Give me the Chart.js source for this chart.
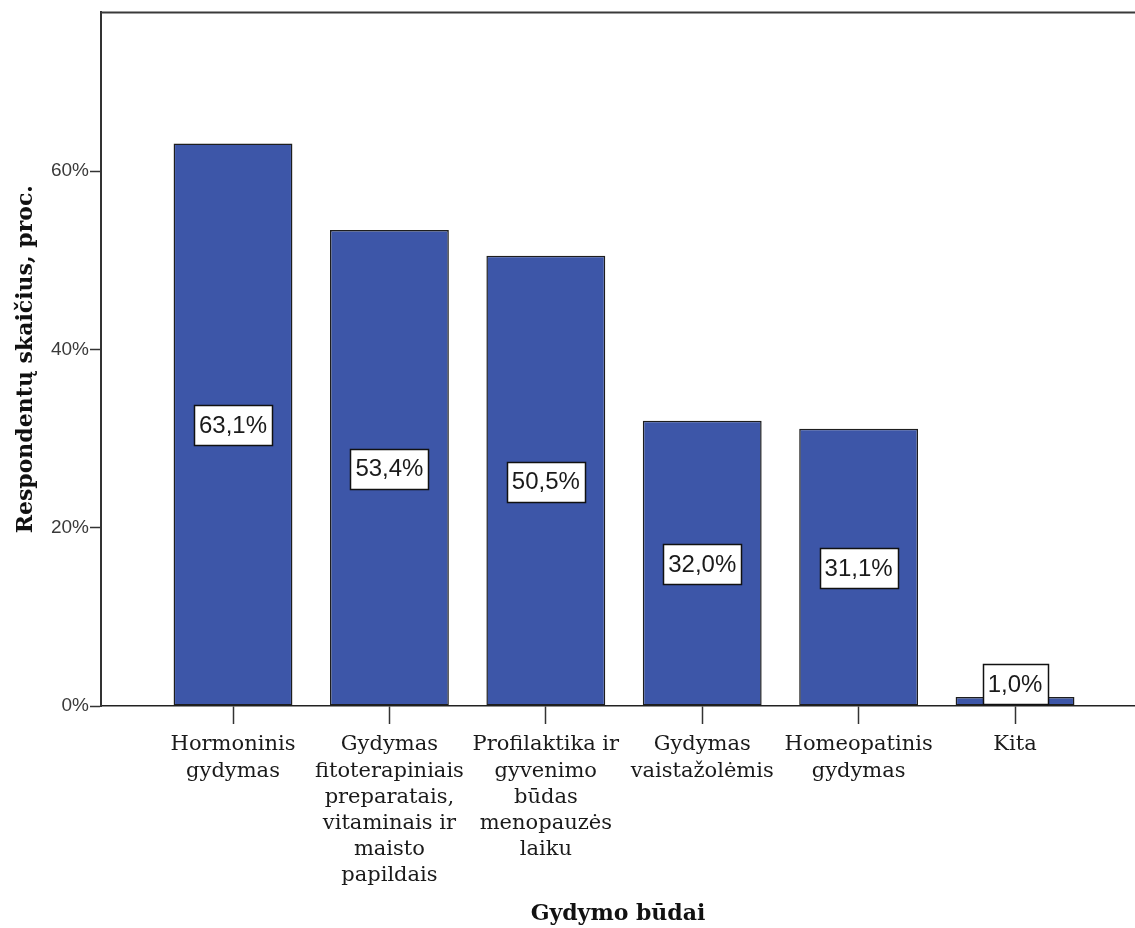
<!DOCTYPE html>
<html>
<head>
<meta charset="utf-8">
<script src="https://cdn.jsdelivr.net/npm/chart.js@4"></script>
<style>
  html, body { margin: 0; padding: 0; background: #fff; overflow: hidden; }
</style>
</head>
<body>
<canvas id="chart" width="1135" height="928"></canvas>
<script>
const categories = [
  ["Hormoninis", "gydymas"],
  ["Gydymas", "fitoterapiniais", "preparatais,", "vitaminais ir", "maisto", "papildais"],
  ["Profilaktika ir", "gyvenimo", "būdas", "menopauzės", "laiku"],
  ["Gydymas", "vaistažolėmis"],
  ["Homeopatinis", "gydymas"],
  ["Kita"]
];
const percents = [63.1, 53.4, 50.5, 32.0, 31.1, 1.0];
const yTicks = [0, 20, 40, 60];

const ctx = document.getElementById("chart");

// white boxes with the value in the middle of each bar
const valueBoxes = {
  id: "valueBoxes",
  afterDatasetsDraw(chart) {
    const c = chart.ctx;
    const meta = chart.getDatasetMeta(0);
    c.save();
    c.font = "24px 'Liberation Sans'";
    c.textAlign = "center";
    c.textBaseline = "middle";
    meta.data.forEach((bar, i) => {
      const txt = percents[i].toFixed(1).replace(".", ",") + "%";
      const w = Math.round(c.measureText(txt).width + 10);
      const h = 40;
      let cy = (bar.y + bar.base) / 2 + 1;
      if (cy + h / 2 > chart.chartArea.bottom - 2) cy = chart.chartArea.bottom - 2 - h / 2;
      const x0 = Math.round(bar.x - w / 2) + 0.5;
      const y0 = Math.round(cy - h / 2) + 0.5;
      c.fillStyle = "#fff";
      c.fillRect(x0, y0, w, h);
      c.strokeStyle = "#111";
      c.lineWidth = 1.5;
      c.strokeRect(x0, y0, w, h);
      c.fillStyle = "#1a1a1a";
      c.fillText(txt, bar.x, cy + 1);
    });
    c.restore();
  }
};

// top frame line (plot box is cut off on the right)
const topLine = {
  id: "topLine",
  afterDraw(chart) {
    const c = chart.ctx;
    const a = chart.chartArea;
    c.save();
    c.strokeStyle = "#3a3a3a";
    c.lineWidth = 2;
    c.beginPath();
    c.moveTo(a.left, a.top);
    c.lineTo(a.right, a.top);
    c.stroke();
    c.restore();
  }
};

new Chart(ctx, {
  type: "bar",
  data: {
    datasets: [
      {
        data: percents.map((v, i) => ({ x: i, y: v })),
        backgroundColor: "#3D56A8",
        borderColor: "#1e1e1e",
        borderWidth: 1.5,
        borderSkipped: false,
        categoryPercentage: 1,
        barPercentage: 0.76
      }
    ]
  },
  plugins: [valueBoxes, topLine],
  options: {
    responsive: false,
    animation: false,
    layout: {
      padding: { top: 12, left: 0, right: 0, bottom: 0 }
    },
    plugins: {
      legend: { display: false },
      tooltip: { enabled: false }
    },
    scales: {
      x: {
        type: "linear",
        offset: false,
        min: -0.844,
        max: 5.767,
        afterBuildTicks: (s) => { s.ticks = categories.map((c, i) => ({ value: i })); },
        afterFit: (s) => { s.height = 222; s.paddingLeft = 0; s.paddingRight = 0; },
        grid: {
          offset: false,
          drawOnChartArea: false,
          tickLength: 18,
          tickColor: "#333",
          tickWidth: 1.5
        },
        border: { color: "#222", width: 1.5 },
        ticks: {
          autoSkip: false,
          maxRotation: 0,
          padding: 8,
          color: "#1a1a1a",
          font: { family: "DejaVu Serif", size: 21, lineHeight: 1.24 },
          callback: (v) => categories[v]
        },
        title: {
          display: true,
          text: "Gydymo būdai",
          color: "#111",
          font: { family: "DejaVu Serif", size: 22, weight: "bold" },
          padding: { top: 0, bottom: 1 }
        }
      },
      y: {
        min: 0,
        max: 77.8,
        afterBuildTicks: (s) => { s.ticks = yTicks.map((v) => ({ value: v })); },
        afterFit: (s) => { s.width = 101; },
        grid: {
          drawOnChartArea: false,
          tickLength: 11,
          tickColor: "#333",
          tickWidth: 1.5
        },
        border: { color: "#333", width: 2 },
        ticks: {
          padding: 1,
          color: "#3a3a3a",
          font: { family: "Liberation Sans", size: 19 },
          callback: (v) => v + "%"
        },
        title: {
          display: true,
          text: "Respondentų skaičius, proc.",
          color: "#111",
          font: { family: "DejaVu Serif", size: 22, weight: "bold" },
          padding: { top: 13, bottom: 0 }
        }
      }
    }
  }
});
</script>
</body>
</html>
